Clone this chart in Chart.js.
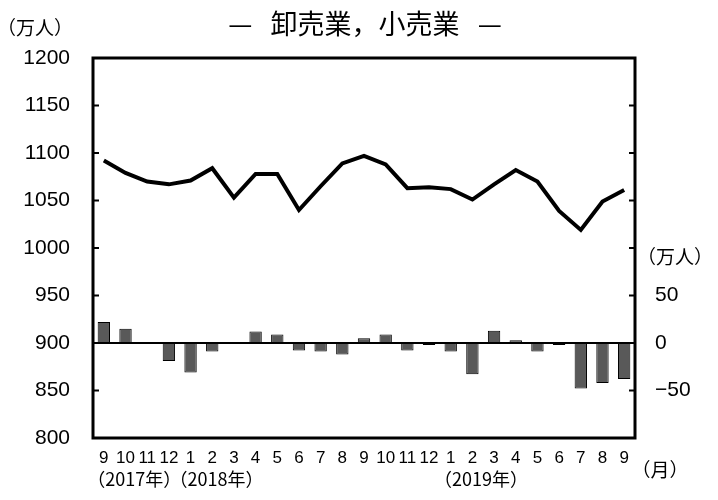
<!DOCTYPE html>
<html>
<head>
<meta charset="utf-8">
<script src="https://cdn.jsdelivr.net/npm/chart.js@4.4.1/dist/chart.umd.min.js"></script>
<style>
    html, body { margin: 0; padding: 0; background: #fff; }
    #wrap { width: 718px; height: 500px; }
</style>
</head>
<body>
<div id="wrap"><canvas id="tradeChart"></canvas></div>
<script>
// 月 (2017年9月 〜 2019年9月)
const months = ['9', '10', '11', '12', '1', '2', '3', '4', '5', '6', '7', '8', '9', '10', '11', '12', '1', '2', '3', '4', '5', '6', '7', '8', '9'];
// 就業者数 (万人, 左軸)
const employed = [1092, 1079, 1070, 1067, 1071, 1084, 1053, 1078, 1078, 1040, 1065, 1089, 1097, 1088, 1063, 1064, 1062, 1051, 1067, 1082, 1070, 1039, 1019, 1049, 1061];
// 前年同月差 (万人, 右軸)
const yoyDiff = [22, 15, 0, -19, -31, -9, 0, 12, 9, -8, -9, -12, 5, 9, -8, -2, -9, -33, 13, 3, -9, -2, -48, -42, -38];
// 年ラベル
const yearText = ['（2017年）', '（2018年）', '（2019年）'];
const yearIndex = [0, 4, 16];
// 右軸に表示する目盛
const rightTicks = [-50, 0, 50];

const NUM_FONT = "'Liberation Sans', Arial, sans-serif";
const JP_FONT = "'Noto Sans CJK JP', 'Noto Sans', sans-serif";

// 枠・目盛・年ラベルなど
const decorations = {
    id: 'decorations',
    afterDatasetsDraw(chart) {
        const ctx = chart.ctx;
        const area = chart.chartArea;
        const y = chart.scales.y;
        const y1 = chart.scales.y1;
        const x = chart.scales.x;
        ctx.save();
        ctx.strokeStyle = '#000';

        // ゼロ線
        const zy = y1.getPixelForValue(0);
        ctx.lineWidth = 2;
        ctx.beginPath();
        ctx.moveTo(area.left, zy);
        ctx.lineTo(area.right, zy);
        ctx.stroke();

        // 内向きの目盛
        y.ticks.forEach(t => {
            const py = y.getPixelForValue(t.value);
            ctx.beginPath();
            ctx.moveTo(area.left, py);
            ctx.lineTo(area.left + 6, py);
            ctx.moveTo(area.right, py);
            ctx.lineTo(area.right - 6, py);
            ctx.stroke();
        });

        // 枠
        ctx.lineWidth = 3;
        ctx.strokeRect(area.left, area.top, area.right - area.left, area.bottom - area.top);

        // 文字
        ctx.fillStyle = '#000';
        ctx.textAlign = 'center';
        ctx.textBaseline = 'middle';
        ctx.font = '27px ' + JP_FONT;
        ctx.fillText('—   卸売業，小売業   —', 365, 24);

        ctx.font = '19px ' + JP_FONT;
        ctx.fillText('（万人）', 35, 28);
        ctx.fillText('（万人）', 675, 257);
        ctx.font = '19px ' + JP_FONT;
        ctx.fillText('（月）', 660, 470);

        const step = x.getPixelForValue(1) - x.getPixelForValue(0);
        ctx.font = '18px ' + JP_FONT;
        yearText.forEach((txt, i) => {
            const cx = x.getPixelForValue(yearIndex[i]) + step * (i === 1 ? 1.2 : 1.4);
            ctx.fillText(txt, cx, 479);
        });
        ctx.restore();
    }
};

new Chart(document.getElementById('tradeChart'), {
    data: {
        labels: months,
        datasets: [{
            type: 'line',
            data: employed,
            yAxisID: 'y',
            borderColor: '#000',
            borderWidth: 4,
            pointRadius: 0,
            tension: 0,
            order: 0
        }, {
            type: 'bar',
            data: yoyDiff,
            yAxisID: 'y1',
            backgroundColor: '#595959',
            borderColor: '#000',
            borderWidth: 1,
            borderSkipped: false,
            barPercentage: 0.57,
            categoryPercentage: 1,
            order: 1
        }]
    },
    options: {
        responsive: true,
        maintainAspectRatio: false,
        animation: false,
        layout: { padding: { top: 58, left: 0, right: 0, bottom: 0 } },
        plugins: {
            legend: { display: false },
            tooltip: { enabled: false }
        },
        scales: {
            x: {
                grid: { display: false, drawTicks: false },
                border: { display: false },
                ticks: {
                    color: '#000',
                    font: { family: NUM_FONT, size: 17 },
                    padding: 10,
                    maxRotation: 0,
                    autoSkip: false
                },
                afterFit(scale) { scale.height = 62; }
            },
            y: {
                position: 'left',
                min: 800,
                max: 1200,
                grid: { display: false, drawTicks: false },
                border: { display: false },
                ticks: {
                    stepSize: 50,
                    color: '#000',
                    font: { family: NUM_FONT, size: 21 },
                    padding: 23,
                    callback: v => String(v)
                },
                afterFit(scale) { scale.width = 93; }
            },
            y1: {
                position: 'right',
                min: -100,
                max: 300,
                grid: { display: false, drawTicks: false },
                border: { display: false },
                ticks: {
                    stepSize: 50,
                    color: '#000',
                    font: { family: NUM_FONT, size: 21 },
                    padding: 20,
                    callback: v => rightTicks.includes(v) ? String(v).replace('-', '−') : ''
                },
                afterFit(scale) { scale.width = 83; }
            }
        }
    },
    plugins: [decorations]
});
</script>
</body>
</html>
